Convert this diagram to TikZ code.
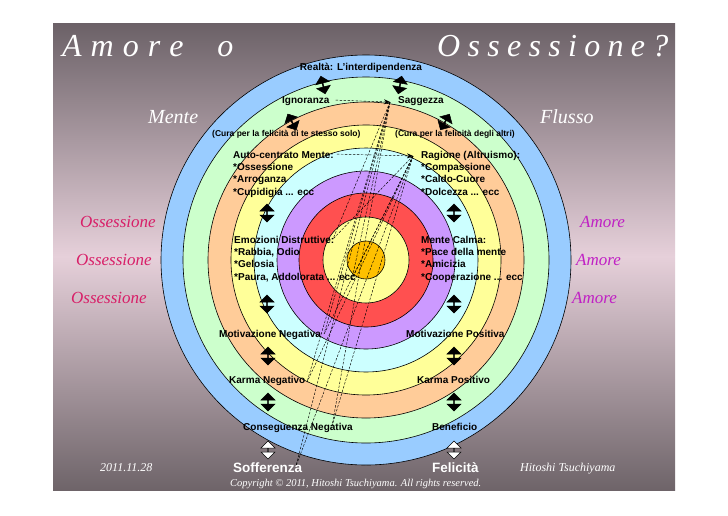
\documentclass[tikz,border=0pt]{standalone}
\usepackage{fontspec}
\setmainfont{Liberation Serif}
\setsansfont{Liberation Sans}
\usetikzlibrary{shapes.arrows,arrows.meta}
\definecolor{bgtop}{HTML}{6B6167}
\definecolor{bgmid}{HTML}{E6D0DA}
\definecolor{bgbot}{HTML}{6E6469}
\definecolor{rblue}{HTML}{99CCFF}
\definecolor{rgreen}{HTML}{CCFFCC}
\definecolor{rpeach}{HTML}{FFCC99}
\definecolor{ryellow}{HTML}{FFFF99}
\definecolor{rcyan}{HTML}{CCFFFF}
\definecolor{rpurple}{HTML}{CC99FF}
\definecolor{rred}{HTML}{FF5050}
\definecolor{rcore}{HTML}{FFC000}
\definecolor{obscol}{HTML}{D81F68}
\definecolor{amcol}{HTML}{C020C4}
\newcommand\tk[1]{\kern#1pt\relax}
\begin{document}
\begin{tikzpicture}[x=1pt,y=-1pt,
  ring/.style={draw=black,line width=0.6pt},
  lbl/.style={font=\sffamily\bfseries\fontsize{10}{12}\selectfont,anchor=base west,inner sep=0pt},
  small/.style={font=\sffamily\bfseries\fontsize{8.5}{10}\selectfont,anchor=base west,inner sep=0pt},
  big/.style={font=\sffamily\bfseries\fontsize{13.5}{15}\selectfont,anchor=base west,inner sep=0pt,text=white},
  itw/.style={font=\itshape,anchor=base west,inner sep=0pt,text=white},
  dblarr/.style={double arrow,minimum height=18pt,minimum width=14pt,double arrow head extend=3.5pt,double arrow tip angle=90,inner sep=0pt,draw=black,line width=0.5pt},
  blk/.style={dblarr,fill=black},
  wht/.style={dblarr,fill=white},
  dashln/.style={dash pattern=on 2.5pt off 1.5pt,line width=0.45pt},
  ptr/.style={dashln,-{Stealth[length=6pt,width=5pt]}}
]
\useasboundingbox (0,0) rectangle (728,515);
\fill[white] (0,0) rectangle (728,515);
\shade[top color=bgtop,bottom color=bgbot,middle color=bgmid] (53,23) rectangle (675,490);

% rings
\coordinate (C) at (366,260);
\foreach \r/\c in {205/rblue,183/rgreen,158/rpeach,135/ryellow,112/rcyan,89/rpurple,67/rred,43/ryellow,19/rcore}
  \filldraw[ring,fill=\c] (C) circle[radius=\r pt];

% title and side labels
\node[itw,font=\itshape\fontsize{32}{36}\selectfont] (t1) at (62,56.5) {A\tk{9}m\tk{9}o\tk{9}r\tk{9}e\tk{34}o};
\node[itw,font=\itshape\fontsize{32}{36}\selectfont] (t2) at (437,56.5) {O\tk{7.3}s\tk{7.3}s\tk{7.3}e\tk{7.3}s\tk{7.3}s\tk{7.3}i\tk{7.3}o\tk{7.3}n\tk{7.3}e\tk{7.3}?};
\node[itw,font=\itshape\fontsize{20}{24}\selectfont] (mente) at (148,123) {Mente};
\node[itw,font=\itshape\fontsize{20}{24}\selectfont] (flusso) at (540,123) {Flusso};
\node[itw,font=\itshape\fontsize{17}{20}\selectfont,text=obscol] (o1) at (80,227.6) {Ossessione};
\node[itw,font=\itshape\fontsize{17}{20}\selectfont,text=obscol] (o2) at (76,265.6) {Ossessione};
\node[itw,font=\itshape\fontsize{17}{20}\selectfont,text=obscol] (o3) at (71,303.6) {Ossessione};
\node[itw,font=\itshape\fontsize{17}{20}\selectfont,text=amcol] (a1) at (580,227.6) {Amore};
\node[itw,font=\itshape\fontsize{17}{20}\selectfont,text=amcol] (a2) at (576,265.6) {Amore};
\node[itw,font=\itshape\fontsize{17}{20}\selectfont,text=amcol] (a3) at (572,303.6) {Amore};

% dashed pencil of lines
\coordinate (S) at (390,102);
\coordinate (R) at (413,156);
\coordinate (T1) at (333,239);
\coordinate (T2) at (352,279);
\coordinate (T3) at (324,334);
\coordinate (T4) at (307,382);
\coordinate (T5) at (332,426);
\coordinate (T6) at (296,466);
\foreach \t in {T1,T2,T3,T4,T5,T6} {
  \draw[dashln] (S) -- (\t);
  \draw[dashln] (R) -- (\t);
}

% ring texts
\node[lbl,anchor=base] (real) at (361,70.5) {Realtà: L'interdipendenza};
\node[lbl] (ign) at (282,103.5) {Ignoranza};
\node[lbl] (sag) at (398,103.5) {Saggezza};
\node[small] (cura1) at (212,136) {(Cura per la felicità di te stesso solo)};
\node[small] (cura2) at (395,136) {(Cura per la felicità degli altri)};

\node[lbl] (auto) at (233,158.5) {Auto-centrato Mente:};
\node[lbl] (l11) at (233,170.5) {*Ossessione};
\node[lbl] (l12) at (233,182.5) {*Arroganza};
\node[lbl] (l13) at (233,195) {*Cupidigia ... ecc};
\node[lbl] (rag) at (421,158.5) {Ragione (Altruismo):};
\node[lbl] (r11) at (421,170.5) {*Compassione};
\node[lbl] (r12) at (421,182.5) {*Caldo-Cuore};
\node[lbl] (r13) at (421,195) {*Dolcezza ... ecc};

\node[lbl] (emo) at (234,243.5) {Emozioni Distruttive:};
\node[lbl] (l21) at (234,255.5) {*Rabbia, Odio};
\node[lbl] (l22) at (234,267.5) {*Gelosia};
\node[lbl] (l23) at (234,280.5) {*Paura, Addolorata ... ecc};
\node[lbl] (calma) at (421,243.5) {Mente Calma:};
\node[lbl] (r21) at (421,255.5) {*Pace della mente};
\node[lbl] (r22) at (421,267.5) {*Amicizia};
\node[lbl] (r23) at (421,280.5) {*Cooperazione ... ecc};

\node[lbl] (motn) at (219,337.5) {Motivazione Negativa};
\node[lbl] (motp) at (406,337.5) {Motivazione Positiva};
\node[lbl] (karn) at (229,383.5) {Karma Negativo};
\node[lbl] (karp) at (417,383.5) {Karma Positivo};
\node[lbl] (conn) at (243,430.5) {Conseguenza Negativa};
\node[lbl] (conp) at (432,430.5) {Beneficio};

\node[big] (soff) at (233,472) {Sofferenza};
\node[big] (feli) at (432,472) {Felicità};
\node[itw,font=\itshape\fontsize{10.5}{12}\selectfont] (copy) at (230,486.5) {Copyright © 2011, Hitoshi Tsuchiyama. All rights reserved.};
\node[itw,font=\itshape\fontsize{12}{14}\selectfont] (date) at (100,471) {2011.11.28};
\node[itw,font=\itshape\fontsize{12}{14}\selectfont] (auth) at (520,471) {Hitoshi Tsuchiyama};

% pointer lines
\draw[ptr] (ign.east) ++(6,-1) coordinate (ignE) -- (S);
\draw[ptr] (auto.east) ++(3,-1) coordinate (autoE) -- (R);

% double arrows
\node[blk,rotate=90] (la1) at (267,213) {};
\node[blk,rotate=90] (la2) at (267,304) {};
\node[blk,rotate=90] (la3) at (268,356) {};
\node[blk,rotate=90] (la4) at (268,402) {};
\node[wht,rotate=90] (la5) at (268,450) {};
\node[blk,rotate=90] (ra1) at (454,213) {};
\node[blk,rotate=90] (ra2) at (454,304) {};
\node[blk,rotate=90] (ra3) at (454,356) {};
\node[blk,rotate=90] (ra4) at (454,402) {};
\node[wht,rotate=90] (ra5) at (454,450) {};
\node[blk,rotate=104] (ta1) at (323,85) {};
\node[blk,rotate=79] (ta2) at (400,85) {};
\node[blk,rotate=118] (ta3) at (292,122) {};
\node[blk,rotate=60] (ta4) at (445,122) {};
\end{tikzpicture}
\end{document}
